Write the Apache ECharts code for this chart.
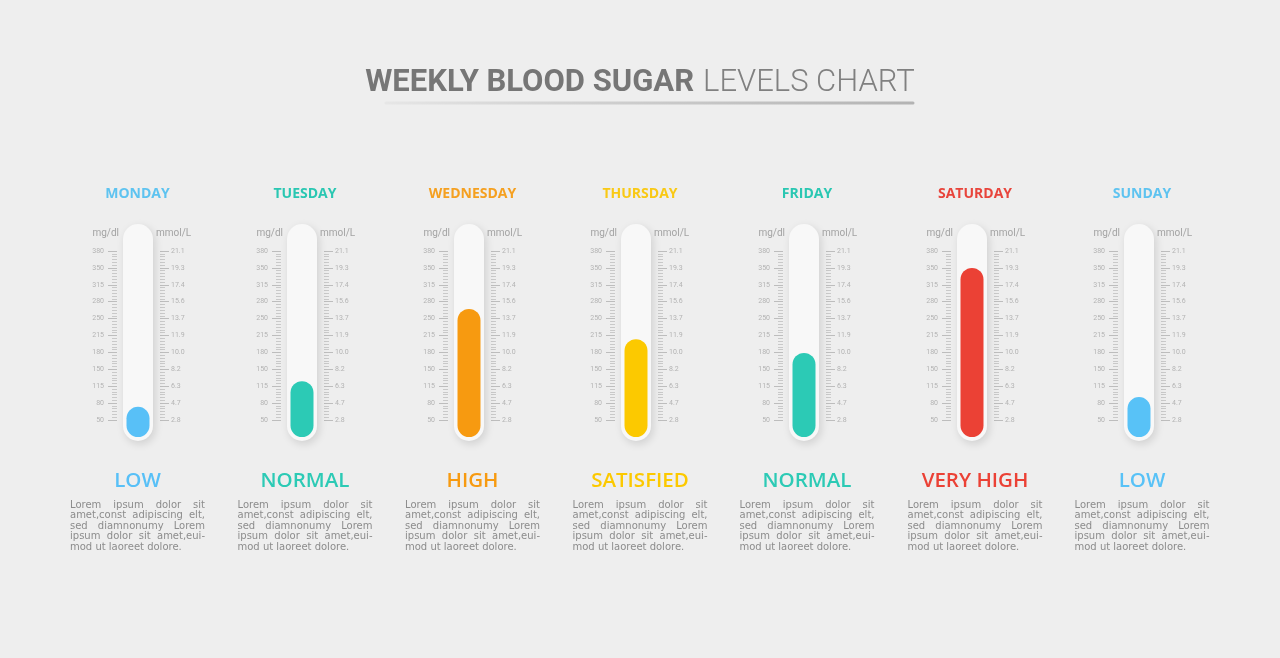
<!DOCTYPE html>
<html><head><meta charset="utf-8">
<script src="https://cdn.jsdelivr.net/npm/echarts@6/dist/echarts.min.js"></script>
<style>html,body{margin:0;padding:0;background:#eeeeee}#c{width:1280px;height:658px}</style>
</head><body><div id="c"></div>
<script>
const days = ['MONDAY','TUESDAY','WEDNESDAY','THURSDAY','FRIDAY','SATURDAY','SUNDAY'];
const statuses = ['LOW','NORMAL','HIGH','SATISFIED','NORMAL','VERY HIGH','LOW'];
const levels = [76, 126, 267, 208, 181, 347, 95]; // mg/dl
const mgdlLabels = ['50','80','115','150','180','215','250','280','315','350','380'];
const mmolLabels = ['2.8','4.7','6.3','8.2','10.0','11.9','13.7','15.6','17.4','19.3','21.1'];
const dayColors = ['#5ec3f0','#2ac7b2','#f5a020','#f9c915','#2ac7b2','#e8453c','#5ec3f0'];
const fillColors = ['#58c0f7','#2ccab5','#f79a10','#fcc900','#2ccab5','#eb4135','#58c2f7'];
const loremLines = ['Lorem ipsum dolor sit','amet,const adipiscing elt,','sed diamnonumy Lorem','ipsum dolor sit amet,eui-','mod ut laoreet dolore.'];

const tubeCx = [138, 302, 469, 636, 804, 972, 1139];
const textCx = [137.5, 305, 472.5, 640, 807, 975, 1142];

const chart = echarts.init(document.getElementById('c'));
const grid = [], xAxis = [], yAxis = [], series = [], graphic = [];

const SCALE_MIN = 50, SCALE_MAX = 380, STEP = 33;
const idx = v => Math.round((v - SCALE_MIN) / STEP);

days.forEach((d, i) => {
  const cx = tubeCx[i];
  // tube grid
  const gTube = grid.length;
  grid.push({left: cx - 15, width: 30, top: 224, height: 217});
  xAxis.push({type:'category', gridIndex:gTube, data:['t'], show:false});
  const yTube = yAxis.length;
  yAxis.push({type:'value', gridIndex:gTube, min:0, max:1, show:false});
  series.push({type:'bar', xAxisIndex:gTube, yAxisIndex:yTube, data:[1], barWidth:30, z:1, silent:true,
    itemStyle:{color:'#f8f8f8', borderRadius:15, shadowBlur:8, shadowColor:'rgba(0,0,0,0.13)', shadowOffsetX:2, shadowOffsetY:3}});
  // fill grid
  const gFill = grid.length;
  grid.push({left: cx - 11.5, width: 23, top: 251, height: 186});
  xAxis.push({type:'category', gridIndex:gFill, data:[d], show:false});
  const yFill = yAxis.length;
  yAxis.push({type:'value', gridIndex:gFill, min:SCALE_MIN - STEP, max:SCALE_MAX, show:false});
  series.push({type:'bar', xAxisIndex:gFill, yAxisIndex:yFill, data:[levels[i]], barWidth:23, z:3,
    itemStyle:{color:fillColors[i], borderRadius:11.5}});
  // tick grid
  const gTick = grid.length;
  grid.push({left: cx - 21, width: 43, top: 251, height: 169});
  xAxis.push({type:'category', gridIndex:gTick, data:['s'], show:false});
  const common = {
    type:'value', gridIndex:gTick, min:SCALE_MIN, max:SCALE_MAX, interval:STEP,
    axisLine:{show:false}, splitLine:{show:false},
    axisTick:{show:true, length:9, lineStyle:{color:'#bdbdbd', width:1}},
    minorTick:{show:true, splitNumber:6, length:5, lineStyle:{color:'#c9c9c9', width:1}},
    nameLocation:'end', nameGap:13
  };
  yAxis.push(Object.assign({}, common, {position:'left', name:'mg/dl',
    nameTextStyle:{color:'#a3a3a3', fontSize:10, fontFamily:'Roboto', align:'right', padding:[0,-2,0,0]},
    axisLabel:{color:'#b3b3b3', fontSize:7, fontFamily:'Roboto', margin:13, formatter:v => mgdlLabels[idx(v)]}}));
  yAxis.push(Object.assign({}, common, {position:'right', name:'mmol/L',
    nameTextStyle:{color:'#a3a3a3', fontSize:10, fontFamily:'Roboto', align:'left', padding:[0,0,0,-4]},
    axisLabel:{color:'#b3b3b3', fontSize:7, fontFamily:'Roboto', margin:11, formatter:v => mmolLabels[idx(v)]}}));

  // texts
  const tx = textCx[i];
  graphic.push({type:'text', silent:true, style:{text:d, x:tx, y:194, align:'center', verticalAlign:'middle',
    fill:dayColors[i], fontSize:14, fontWeight:'bold', fontFamily:'"Open Sans"'}});
  graphic.push({type:'text', silent:true, style:{text:statuses[i], x:tx, y:481, align:'center', verticalAlign:'middle',
    fill:fillColors[i], fontSize:20.5, fontWeight:600, fontFamily:'"Open Sans"'}});
});

// justified lorem text
const LW = 135;
const loremFont = '10px "DejaVu Sans"';
const mctx = document.createElement('canvas').getContext('2d');
mctx.font = loremFont;
textCx.forEach(tx => {
  const left = tx - LW / 2;
  loremLines.forEach((line, k) => {
    const y = 505 + k * 10.5;
    const words = line.split(' ');
    const ws = words.map(w => mctx.measureText(w).width);
    const sum = ws.reduce((a, b) => a + b, 0);
    const last = k === loremLines.length - 1;
    const sp = mctx.measureText(' ').width;
    const gap = (last || words.length < 2) ? sp : Math.max(sp * 0.6, (LW - sum) / (words.length - 1));
    let x = left;
    words.forEach((w, j) => {
      graphic.push({type:'text', silent:true, style:{text:w, x:x, y:y, align:'left', verticalAlign:'middle',
        fill:'#8c8c8c', font:loremFont}});
      x += ws[j] + gap;
    });
  });
});

// title underline
graphic.push({type:'line', silent:true, shape:{x1:386, y1:103, x2:913, y2:103},
  style:{lineWidth:3, lineCap:'round', stroke:new echarts.graphic.LinearGradient(0,0,1,0,[
    {offset:0, color:'rgba(200,200,200,0.2)'},{offset:0.4, color:'#cfcfcf'},{offset:1, color:'#b3b3b3'}])}});

chart.setOption({
  backgroundColor:'#eeeeee',
  animation:false,
  title:{left:'center', top:63, text:'{b|WEEKLY BLOOD SUGAR} {l|LEVELS CHART}',
    textStyle:{rich:{
      b:{fontSize:31, fontWeight:'bold', color:'#767676', fontFamily:'Roboto'},
      l:{fontSize:31, fontWeight:300, color:'#808080', fontFamily:'Roboto', padding:[0,0,0,4]}}}},
  grid, xAxis, yAxis, series, graphic
});
</script></body></html>
